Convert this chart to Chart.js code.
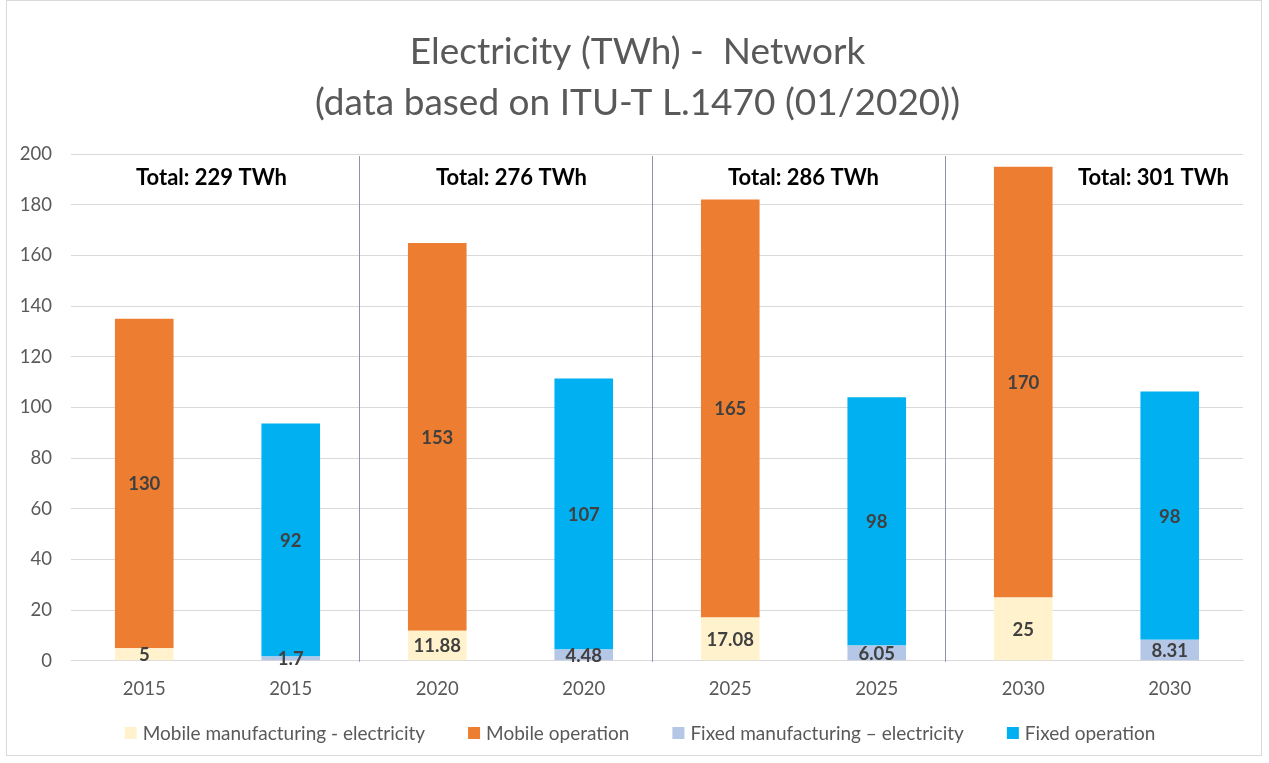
<!DOCTYPE html>
<html>
<head>
<meta charset="utf-8">
<script src="https://cdn.jsdelivr.net/npm/chart.js@4/dist/chart.umd.min.js"></script>
<style>
  html, body { margin: 0; padding: 0; background: #fff; }
  #wrap { position: relative; width: 1269px; height: 763px; }
  #frame { position: absolute; left: 6px; top: 0; width: 1256px; height: 756px; border: 1px solid #d9d9d9; box-sizing: border-box; pointer-events: none; }
</style>
</head>
<body>
<div id="wrap">
  <canvas id="c" width="1269" height="763"></canvas>
  <div id="frame"></div>
</div>
<script>
// Category labels: one mobile and one fixed bar per year
const categories = ['2015', '2015', '2020', '2020', '2025', '2025', '2030', '2030'];

// Electricity use in TWh per segment
const mobileManufacturing = [5, null, 11.88, null, 17.08, null, 25, null];
const mobileOperation     = [130, null, 153, null, 165, null, 170, null];
const fixedManufacturing  = [null, 1.7, null, 4.48, null, 6.05, null, 8.31];
const fixedOperation      = [null, 92, null, 107, null, 98, null, 98];

// Group totals shown above each year pair
const totalLabels = ['Total: 229 TWh', 'Total: 276 TWh', 'Total: 286 TWh', 'Total: 301 TWh'];
const totalLabelValue = 190.5;

const yTicks = { min: 0, max: 200, step: 20 };

const FONT = 'Lato, "Open Sans", sans-serif';
const GREY = '#595959';

// Draws each segment's value in the middle of its bar section
const segmentValues = {
  id: 'segmentValues',
  afterDatasetsDraw(chart) {
    const ctx = chart.ctx;
    ctx.save();
    ctx.font = 'bold 18.5px ' + FONT;
    ctx.fillStyle = '#404040';
    ctx.textAlign = 'center';
    ctx.textBaseline = 'middle';
    chart.data.datasets.forEach((ds, i) => {
      const meta = chart.getDatasetMeta(i);
      meta.data.forEach((bar, j) => {
        const v = ds.data[j];
        if (v === null || v === undefined) return;
        const p = bar.getProps(['x', 'y', 'base'], true);
        ctx.fillText(String(v), p.x, (p.y + p.base) / 2 + 1);
      });
    });
    ctx.restore();
  }
};

// Vertical dividers between year groups and the total for each group
const groupDecor = {
  id: 'groupDecor',
  afterDatasetsDraw(chart, args, opts) {
    const ctx = chart.ctx;
    const x = chart.scales.x, y = chart.scales.y;
    const area = chart.chartArea;
    ctx.save();
    ctx.strokeStyle = '#8a94a6';
    ctx.lineWidth = 1;
    for (let g = 1; g < totalLabels.length; g++) {
      const xp = Math.round((x.getPixelForValue(2 * g - 1) + x.getPixelForValue(2 * g)) / 2) - 4.5;
      ctx.beginPath();
      ctx.moveTo(xp, area.top + 2);
      ctx.lineTo(xp, y.getPixelForValue(0) + 1);
      ctx.stroke();
    }
    ctx.font = 'bold 22px ' + FONT;
    ctx.fillStyle = '#000';
    ctx.textAlign = 'center';
    ctx.textBaseline = 'middle';
    totalLabels.forEach((t, g) => {
      const cx = (x.getPixelForValue(2 * g) + x.getPixelForValue(2 * g + 1)) / 2 + (opts.shift[g] || 0);
      ctx.fillText(t, cx, y.getPixelForValue(totalLabelValue));
    });
    ctx.restore();
  }
};

// Centres the title block a little right of the canvas centre
const titleIndent = {
  id: 'titleIndent',
  afterLayout(chart, args, opts) {
    if (chart.titleBlock) chart.titleBlock.left += opts.left;
  }
};

// Legend row along the bottom edge, drawn from the dataset labels and colours
const bottomLegend = {
  id: 'bottomLegend',
  afterDraw(chart, args, opts) {
    const ctx = chart.ctx;
    ctx.save();
    ctx.font = opts.size + 'px ' + FONT;
    const items = chart.data.datasets.map(ds => ({
      text: ds.label, color: ds.backgroundColor, w: ctx.measureText(ds.label).width
    }));
    const box = opts.box, gap = opts.gap, spacing = opts.spacing;
    const total = items.reduce((s, it) => s + box + gap + it.w, 0) + spacing * (items.length - 1);
    let xp = opts.center - total / 2;
    const yc = opts.y;
    ctx.textBaseline = 'middle';
    ctx.textAlign = 'left';
    items.forEach(it => {
      ctx.fillStyle = it.color;
      ctx.fillRect(xp, yc - box / 2, box, box);
      ctx.fillStyle = GREY;
      ctx.fillText(it.text, xp + box + gap, yc + 1);
      xp += box + gap + it.w + spacing;
    });
    ctx.restore();
  }
};

new Chart(document.getElementById('c'), {
  type: 'bar',
  data: {
    labels: categories,
    datasets: [
      { label: 'Mobile manufacturing - electricity', data: mobileManufacturing, backgroundColor: '#fff2cc' },
      { label: 'Mobile operation', data: mobileOperation, backgroundColor: '#ed7d31' },
      { label: 'Fixed manufacturing \u2013 electricity', data: fixedManufacturing, backgroundColor: '#b4c7e7' },
      { label: 'Fixed operation', data: fixedOperation, backgroundColor: '#00b0f0' }
    ]
  },
  options: {
    responsive: false,
    animation: false,
    devicePixelRatio: 1,
    datasets: { bar: { categoryPercentage: 1, barPercentage: 0.4, skipNull: true } },
    layout: { padding: { left: 0, right: 26, top: 0, bottom: 46 } },
    plugins: {
      title: {
        display: true,
        text: ['Electricity (TWh) -  Network', '(data based on ITU-T L.1470 (01/2020))'],
        color: GREY,
        font: { family: FONT, size: 37, weight: 'normal', lineHeight: 1.38 },
        padding: { top: 26.5, bottom: 25.5 }
      },
      legend: { display: false },
      tooltip: { enabled: false },
      titleIndent: { left: 32 },
      groupDecor: { shift: [-6, 1, 0, 57] },
      bottomLegend: { size: 19, box: 12, gap: 6, spacing: 43, center: 640, y: 733 }
    },
    scales: {
      x: {
        stacked: true,
        grid: { display: false, drawTicks: false },
        border: { color: '#d9d9d9' },
        ticks: { color: GREY, font: { family: FONT, size: 18.5 }, padding: 17, maxRotation: 0 }
      },
      y: {
        stacked: true,
        min: yTicks.min,
        max: yTicks.max,
        afterFit(scale) { scale.width = 71; },
        grid: { color: '#d9d9d9', drawTicks: false },
        border: { display: false },
        ticks: { stepSize: yTicks.step, color: GREY, font: { family: FONT, size: 18.5 }, padding: 19 }
      }
    }
  },
  plugins: [titleIndent, segmentValues, groupDecor, bottomLegend]
});
</script>
</body>
</html>
